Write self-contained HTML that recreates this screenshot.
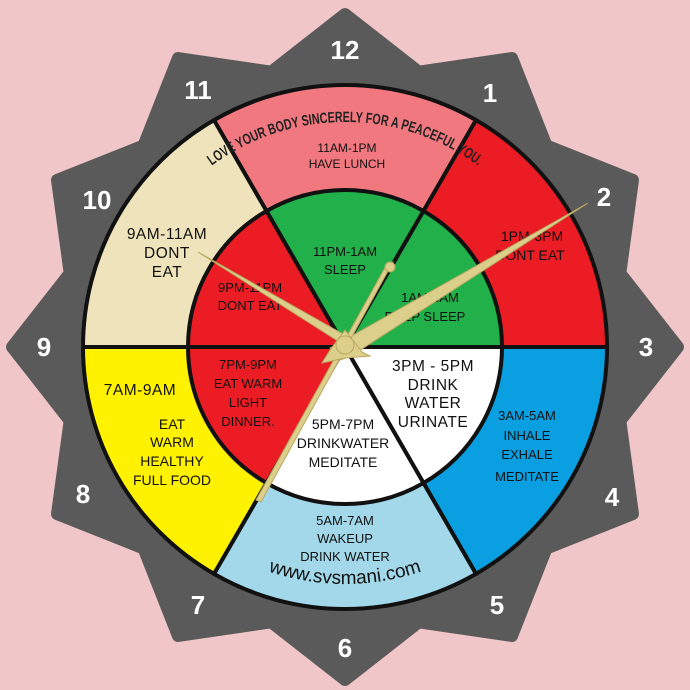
<!DOCTYPE html>
<html><head><meta charset="utf-8"><style>
html,body{margin:0;padding:0;background:#f0c6c8;}
svg{display:block}
text{font-family:"Liberation Sans",sans-serif;fill:#111;text-anchor:middle}
</style></head><body>
<svg width="690" height="690" viewBox="0 0 690 690" xmlns="http://www.w3.org/2000/svg">
<rect width="690" height="690" fill="#f0c6c8"/>
<polygon fill="#5a5a5a" stroke="#5a5a5a" stroke-width="12" stroke-linejoin="round" points="345,14 418.8,71.7 512,58 546.5,145.5 633,180 620.3,273.2 678,347 620.3,420.8 633,514 546.5,548.5 512,636 418.8,622.3 345,680 271.2,622.3 178,636 143.5,548.5 57,514 69.7,420.8 12,347 69.7,273.2 57,180 143.5,145.5 178,58 271.2,71.7"/>
<g font-weight="bold" font-size="26">
<text x="345" y="59" style="fill:#fff">12</text>
<text x="490" y="102" style="fill:#fff">1</text>
<text x="604" y="206" style="fill:#fff">2</text>
<text x="646" y="356" style="fill:#fff">3</text>
<text x="612" y="506" style="fill:#fff">4</text>
<text x="497" y="614" style="fill:#fff">5</text>
<text x="345" y="657" style="fill:#fff">6</text>
<text x="198" y="614" style="fill:#fff">7</text>
<text x="83" y="503" style="fill:#fff">8</text>
<text x="44" y="356" style="fill:#fff">9</text>
<text x="97" y="209" style="fill:#fff">10</text>
<text x="198" y="99" style="fill:#fff">11</text>
</g>
<g stroke="#111" stroke-width="4" stroke-linejoin="round">
<path d="M345,347 L214,120.1 A262,262 0 0 1 476,120.1 Z" fill="#f27880"/>
<path d="M345,347 L476,120.1 A262,262 0 0 1 607,347 Z" fill="#ec1c24"/>
<path d="M345,347 L607,347 A262,262 0 0 1 476,573.9 Z" fill="#0a9fe0"/>
<path d="M345,347 L476,573.9 A262,262 0 0 1 214,573.9 Z" fill="#a2d8ea"/>
<path d="M345,347 L214,573.9 A262,262 0 0 1 83,347 Z" fill="#fff200"/>
<path d="M345,347 L83,347 A262,262 0 0 1 214,120.1 Z" fill="#eee3ba"/>
<path d="M345,347 L266.5,211 A157,157 0 0 1 423.5,211 Z" fill="#22b04b"/>
<path d="M345,347 L423.5,211 A157,157 0 0 1 502,347 Z" fill="#22b04b"/>
<path d="M345,347 L502,347 A157,157 0 0 1 423.5,483 Z" fill="#fff"/>
<path d="M345,347 L423.5,483 A157,157 0 0 1 266.5,483 Z" fill="#fff"/>
<path d="M345,347 L266.5,483 A157,157 0 0 1 188,347 Z" fill="#ec1c24"/>
<path d="M345,347 L188,347 A157,157 0 0 1 266.5,211 Z" fill="#ec1c24"/>
</g>
<defs>
<path id="topArc" d="M120,347 A225,225 0 0 1 570,347"/>
<path id="bot" d="M108,347 A237,237 0 0 0 582,347"/>
</defs>
<text font-size="15" font-weight="bold" style="fill:#222"><textPath href="#topArc" startOffset="50%" textLength="285" lengthAdjust="spacingAndGlyphs">LOVE YOUR BODY SINCERELY FOR A PEACEFUL YOU.</textPath></text>
<text font-size="19" style="fill:#111"><textPath href="#bot" startOffset="50%">www.svsmani.com</textPath></text>
<g font-size="12">
<text x="347" y="152">11AM-1PM</text><text x="347" y="168">HAVE LUNCH</text>
</g>
<g font-size="13">
<text x="345" y="256">11PM-1AM</text><text x="345" y="274">SLEEP</text>
<text x="430" y="302">1AM-3AM</text><text x="425" y="321">DEEP SLEEP</text>
<text x="250" y="292">9PM-11PM</text><text x="250" y="310">DONT EAT</text>
<text x="248" y="369">7PM-9PM</text><text x="248" y="388">EAT WARM</text><text x="248" y="407">LIGHT</text><text x="248" y="426">DINNER.</text>
<text x="527" y="420">3AM-5AM</text><text x="527" y="440">INHALE</text><text x="527" y="459">EXHALE</text><text x="527" y="481">MEDITATE</text>
<text x="345" y="525">5AM-7AM</text><text x="345" y="543">WAKEUP</text><text x="345" y="561">DRINK WATER</text>
</g>
<g font-size="14">
<text x="532" y="241">1PM-3PM</text><text x="530" y="260">DONT EAT</text>
<text x="343" y="429">5PM-7PM</text><text x="343" y="448">DRINKWATER</text><text x="343" y="467">MEDITATE</text>
<text x="172" y="429">EAT</text><text x="172" y="447">WARM</text><text x="172" y="466">HEALTHY</text><text x="172" y="485">FULL FOOD</text>
</g>
<g font-size="15.5" letter-spacing="0.5">
<text x="433" y="371">3PM - 5PM</text><text x="433" y="390">DRINK</text><text x="433" y="408">WATER</text><text x="433" y="427">URINATE</text>
<text x="167" y="239">9AM-11AM</text><text x="167" y="258">DONT</text><text x="167" y="277">EAT</text>
<text x="140" y="395">7AM-9AM</text>
</g>
<g fill="#dccf8c" stroke="#b8a860" stroke-width="1">
<polygon points="355,352 198,252 350,338 341,351"/>
<polygon points="330,348 588,203 351,356 340,360"/>
<polygon points="393,262 387,264 256,500 261,502"/>
<circle cx="390" cy="267" r="5"/>
<polygon points="345,330 362,352 370,356 345,358 322,363 330,350"/>
<circle cx="345" cy="345" r="9"/>
</g>
</svg>
</body></html>
